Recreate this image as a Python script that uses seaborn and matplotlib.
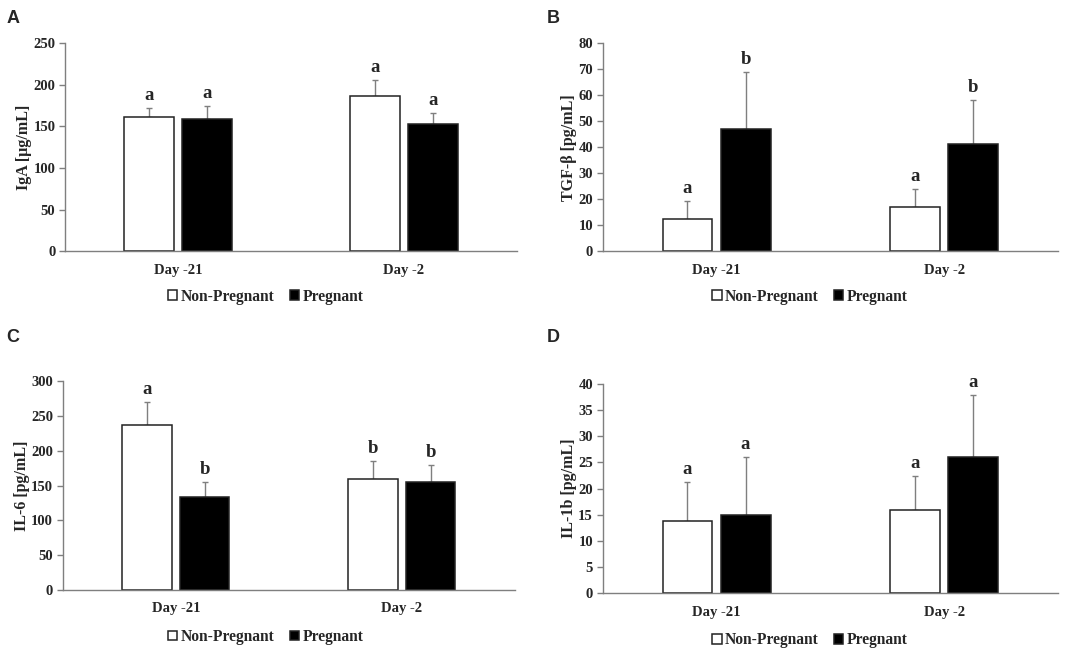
import matplotlib
matplotlib.use("Agg")
import matplotlib.pyplot as plt
import seaborn as sns
import pandas as pd

days = ['Day -21', 'Day -2']
groups = ['Non-Pregnant', 'Pregnant']

# IgA [ug/mL]
iga_nonpreg = [161.2, 186.4]
iga_preg = [158.8, 152.8]
iga_nonpreg_err = [11.2, 18.8]
iga_preg_err = [16.0, 13.2]
iga_letters_nonpreg = ['a', 'a']
iga_letters_preg = ['a', 'a']

# TGF-beta [pg/mL]
tgf_nonpreg = [12.3, 16.9]
tgf_preg = [46.8, 41.4]
tgf_nonpreg_err = [7.1, 6.9]
tgf_preg_err = [22.0, 16.8]
tgf_letters_nonpreg = ['a', 'a']
tgf_letters_preg = ['b', 'b']

# IL-6 [pg/mL]
il6_nonpreg = [237.8, 159.3]
il6_preg = [134.0, 155.0]
il6_nonpreg_err = [32.1, 25.9]
il6_preg_err = [21.5, 24.9]
il6_letters_nonpreg = ['a', 'b']
il6_letters_preg = ['b', 'b']

# IL-1b [pg/mL]
il1b_nonpreg = [13.7, 15.9]
il1b_preg = [15.0, 26.1]
il1b_nonpreg_err = [7.6, 6.5]
il1b_preg_err = [11.0, 11.7]
il1b_letters_nonpreg = ['a', 'a']
il1b_letters_preg = ['a', 'a']

sns.set_style('white')
plt.rcParams['font.family'] = ['Liberation Serif', 'DejaVu Serif']
plt.rcParams['font.weight'] = 'bold'

GRAY = '#7f7f7f'


def draw_panel(fig, rect, letter, ylabel, nonpreg, preg, nonpreg_err, preg_err,
               letters_nonpreg, letters_preg, ymax, ystep, legend_xy, letter_xy):
    ax = fig.add_axes(rect)
    df = pd.DataFrame({
        'day': days * 2,
        'group': [groups[0]] * 2 + [groups[1]] * 2,
        'value': nonpreg + preg,
    })
    sns.barplot(data=df, x='day', y='value', hue='group', order=days,
                hue_order=groups, palette=['white', 'black'],
                edgecolor='#222222', linewidth=1.1, width=0.51, gap=0.14,
                errorbar=None, ax=ax)
    containers = list(ax.containers)
    errs = [nonpreg_err, preg_err]
    letters = [letters_nonpreg, letters_preg]
    for cont, err, lets in zip(containers, errs, letters):
        xs = [b.get_x() + b.get_width() / 2 for b in cont]
        tops = [b.get_height() for b in cont]
        ax.errorbar(xs, tops, yerr=[[0] * len(err), err], fmt='none',
                    ecolor=GRAY, elinewidth=1, capsize=2.5, capthick=1,
                    zorder=0.5)
        for x, t, e, l in zip(xs, tops, err, lets):
            ax.annotate(l, (x, t + e), xytext=(0, 3), textcoords='offset points',
                        ha='center', va='bottom', fontsize=13.5, fontweight='bold')

    ax.set_xlim(-0.5, 1.5)
    ax.set_ylim(0, ymax)
    ax.set_yticks(range(0, ymax + 1, ystep))
    ax.set_xlabel('')
    ax.set_ylabel(ylabel, fontsize=11.5, fontweight='bold', labelpad=1)
    for s in ['top', 'right']:
        ax.spines[s].set_visible(False)
    for s in ['left', 'bottom']:
        ax.spines[s].set_color(GRAY)
        ax.spines[s].set_linewidth(1)
    ax.tick_params(axis='y', length=4, color=GRAY, width=1, labelsize=10.5, pad=3, left=True)
    ax.tick_params(axis='x', length=0, labelsize=10.5, pad=9)
    for t in ax.get_xticklabels() + ax.get_yticklabels():
        t.set_fontweight('bold')

    sns.move_legend(ax, 'center', bbox_to_anchor=legend_xy,
                    bbox_transform=fig.transFigure, ncol=2, frameon=False,
                    title=None, fontsize=11.2, handlelength=0.6, handleheight=0.6,
                    handletextpad=0.2, columnspacing=1.0)
    for txt in ax.get_legend().get_texts():
        txt.set_fontweight('bold')

    fig.text(letter_xy[0], letter_xy[1], letter, fontsize=13, fontweight='bold',
             family=['Liberation Sans', 'DejaVu Sans'], ha='left', va='top')
    return ax


fig = plt.figure(figsize=(10.84, 6.54), dpi=100)

draw_panel(fig, [0.060, 0.616, 0.417, 0.318], 'A', 'IgA [µg/mL]',
           iga_nonpreg, iga_preg, iga_nonpreg_err, iga_preg_err,
           iga_letters_nonpreg, iga_letters_preg, 250, 50,
           (0.245, 0.546), (0.006, 0.985))
draw_panel(fig, [0.556, 0.616, 0.420, 0.318], 'B', 'TGF-β [pg/mL]',
           tgf_nonpreg, tgf_preg, tgf_nonpreg_err, tgf_preg_err,
           tgf_letters_nonpreg, tgf_letters_preg, 80, 10,
           (0.747, 0.546), (0.504, 0.985))
draw_panel(fig, [0.058, 0.098, 0.417, 0.319], 'C', 'IL-6 [pg/mL]',
           il6_nonpreg, il6_preg, il6_nonpreg_err, il6_preg_err,
           il6_letters_nonpreg, il6_letters_preg, 300, 50,
           (0.245, 0.026), (0.006, 0.497))
draw_panel(fig, [0.556, 0.093, 0.420, 0.320], 'D', 'IL-1b [pg/mL]',
           il1b_nonpreg, il1b_preg, il1b_nonpreg_err, il1b_preg_err,
           il1b_letters_nonpreg, il1b_letters_preg, 40, 5,
           (0.747, 0.021), (0.504, 0.497))

fig.savefig('out.png', dpi=100, facecolor='white')
